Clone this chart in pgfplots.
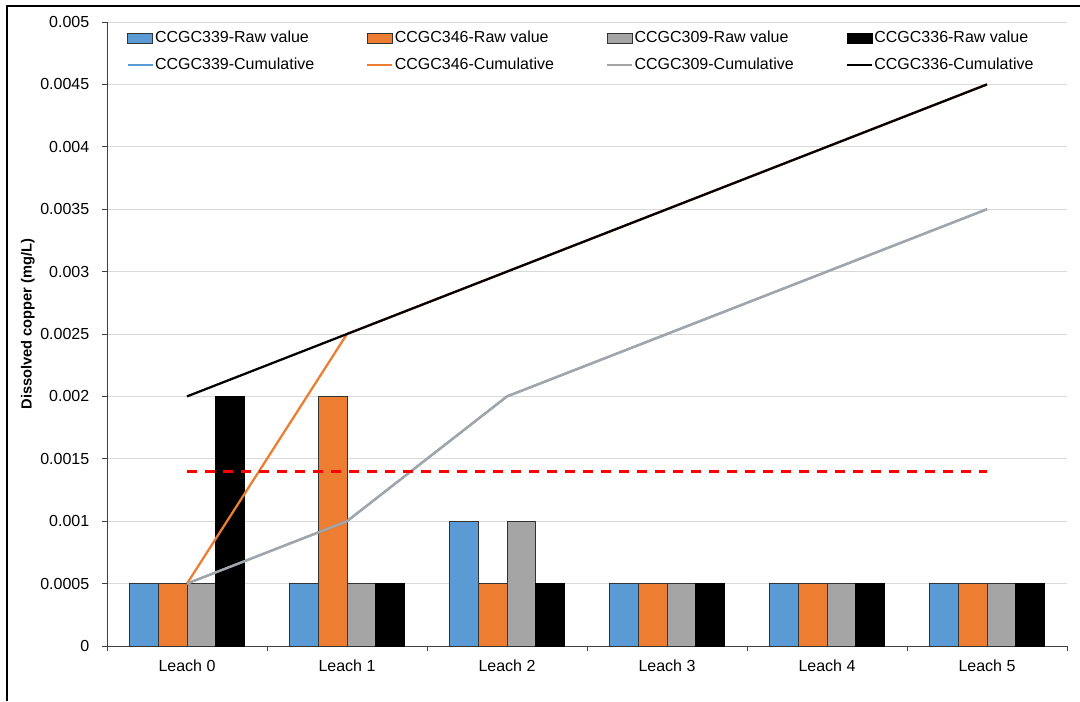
\documentclass[border=0pt]{standalone}
\usepackage{fontspec}
\setmainfont{Liberation Sans}
\usepackage{pgfplots}
\pgfplotsset{compat=1.18}
\definecolor{cblue}{HTML}{5B9BD5}
\definecolor{corange}{HTML}{ED7D31}
\definecolor{cgray}{HTML}{A5A5A5}
\definecolor{cgrid}{HTML}{D9D9D9}
\pgfplotsset{
  barleg/.style={legend image code/.code={\draw[##1] (0pt,-3.75pt) rectangle (18.75pt,3.75pt);}},
  lineleg/.style={legend image code/.code={\draw[##1] (0pt,0pt) -- (18.75pt,0pt);}},
}
\begin{document}
\begin{tikzpicture}
\useasboundingbox (0,0) rectangle (810pt,525.75pt);
\draw[line width=1pt] (5.25pt,0pt) -- (5.25pt,521.25pt) -- (810pt,521.25pt);
\begin{axis}[
  at={(80.25pt,41.25pt)}, anchor=south west,
  scale only axis, width=720pt, height=468pt,
  xmin=-0.5, xmax=5.5, ymin=0, ymax=0.005,
  axis x line*=bottom, axis y line*=left,
  axis line style={black!75, line width=0.75pt},
  tick align=outside, major tick length=3.75pt,
  tick style={black!75, line width=0.75pt},
  xtick={-0.5,0.5,1.5,2.5,3.5,4.5,5.5}, xticklabels={},
  extra x ticks={0,1,2,3,4,5},
  extra x tick labels={Leach 0,Leach 1,Leach 2,Leach 3,Leach 4,Leach 5},
  extra x tick style={major tick length=0pt, tick style={draw=none},
    xticklabel style={yshift=-6.75pt}},
  ytick={0,0.0005,0.001,0.0015,0.002,0.0025,0.003,0.0035,0.004,0.0045,0.005},
  scaled y ticks=false,
  yticklabel style={/pgf/number format/fixed, /pgf/number format/precision=4, xshift=-6pt},
  /pgf/number format/assume math mode=true,
  tick label style={font=\fontsize{12}{14}\selectfont},
  ymajorgrids, major grid style={cgrid, line width=0.75pt},
  ylabel={\textbf{Dissolved copper (mg/L)}},
  ylabel style={at={(axis description cs:-0.0823,0.516)}, anchor=center, font=\fontsize{11}{13}\selectfont},
  legend columns=4,
  legend style={at={(axis description cs:0.020,0.990)}, anchor=north west, draw=none, fill=white,
    font=\fontsize{12}{14}\selectfont, inner sep=0pt, cells={anchor=west},
    nodes={inner xsep=1pt}, row sep=6pt,
    /tikz/every even column/.append style={column sep=38pt}},
]
\addplot[ybar, bar width=21.5625pt, bar shift=-32.34pt, fill=cblue, draw=black!80, line width=0.5pt, barleg]
  coordinates {(0,0.0005) (1,0.0005) (2,0.001) (3,0.0005) (4,0.0005) (5,0.0005)};
\addlegendentry{CCGC339-Raw value}
\addplot[ybar, bar width=21.5625pt, bar shift=-10.78pt, fill=corange, draw=black!80, line width=0.5pt, barleg]
  coordinates {(0,0.0005) (1,0.002) (2,0.0005) (3,0.0005) (4,0.0005) (5,0.0005)};
\addlegendentry{CCGC346-Raw value}
\addplot[ybar, bar width=21.5625pt, bar shift=10.78pt, fill=cgray, draw=black!80, line width=0.5pt, barleg]
  coordinates {(0,0.0005) (1,0.0005) (2,0.001) (3,0.0005) (4,0.0005) (5,0.0005)};
\addlegendentry{CCGC309-Raw value}
\addplot[ybar, bar width=21.5625pt, bar shift=32.34pt, fill=black, draw=black, line width=0.5pt, barleg]
  coordinates {(0,0.002) (1,0.0005) (2,0.0005) (3,0.0005) (4,0.0005) (5,0.0005)};
\addlegendentry{CCGC336-Raw value}
\addplot[sharp plot, no marks, cblue, line width=1.7pt, lineleg]
  coordinates {(0,0.0005) (1,0.001) (2,0.002) (3,0.0025) (4,0.003) (5,0.0035)};
\addlegendentry{CCGC339-Cumulative}
\addplot[sharp plot, no marks, corange, line width=1.7pt, lineleg]
  coordinates {(0,0.0005) (1,0.0025) (2,0.003) (3,0.0035) (4,0.004) (5,0.0045)};
\addlegendentry{CCGC346-Cumulative}
\addplot[sharp plot, no marks, cgray, line width=1.7pt, lineleg]
  coordinates {(0,0.0005) (1,0.001) (2,0.002) (3,0.0025) (4,0.003) (5,0.0035)};
\addlegendentry{CCGC309-Cumulative}
\addplot[sharp plot, no marks, black, line width=1.7pt, lineleg]
  coordinates {(0,0.002) (1,0.0025) (2,0.003) (3,0.0035) (4,0.004) (5,0.0045)};
\addlegendentry{CCGC336-Cumulative}
\addplot[sharp plot, no marks, red, line width=2pt, dash pattern=on 7.5pt off 6pt, forget plot]
  coordinates {(0,0.0014) (5,0.0014)};
\end{axis}
\end{tikzpicture}
\end{document}
